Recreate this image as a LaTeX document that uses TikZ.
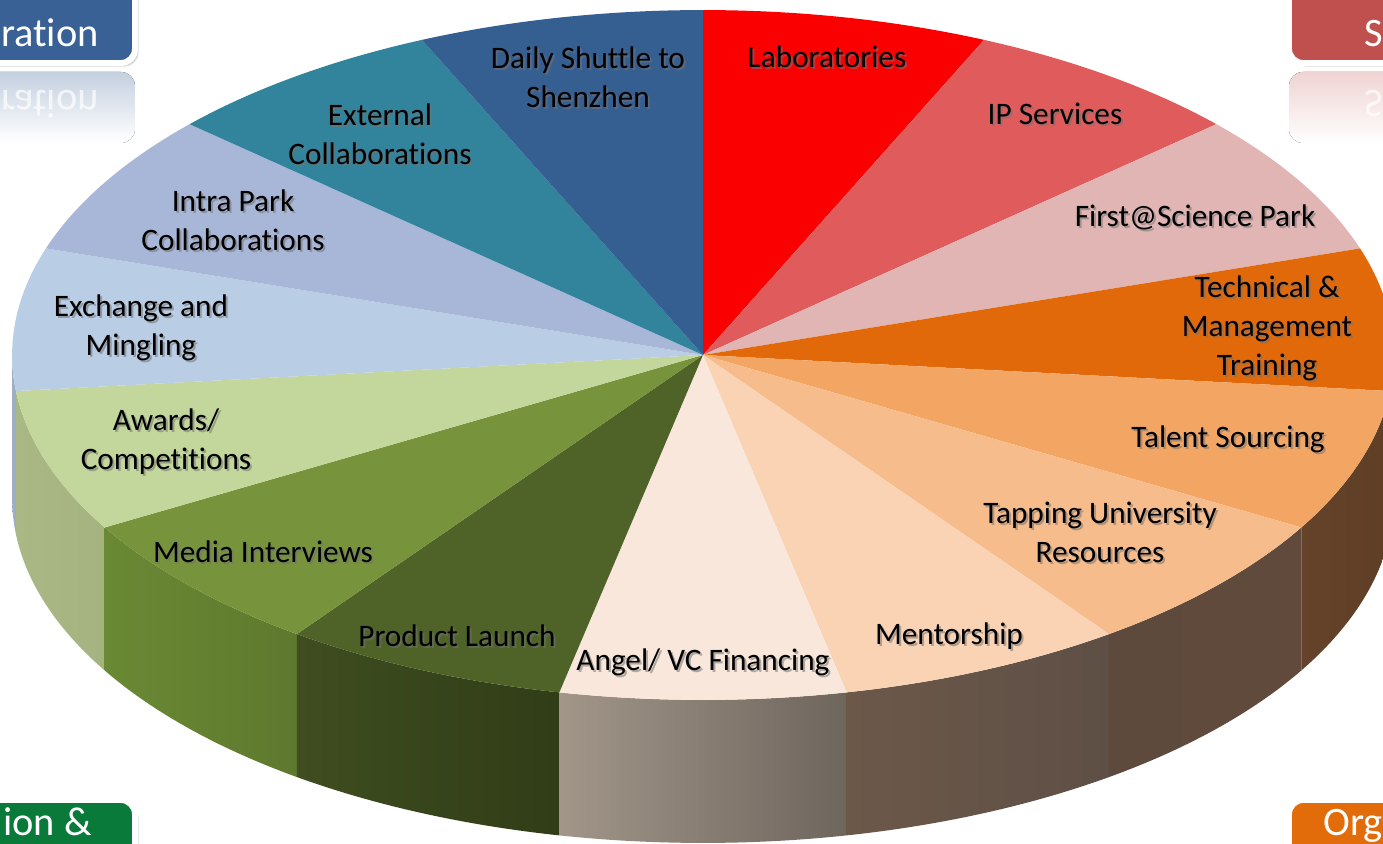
\documentclass[tikz,border=0pt]{standalone}
\usepackage{fontspec}
\setmainfont{Carlito}[Ligatures=NoCommon]
\usepackage{xcolor}
\usepackage{tikz}
\usetikzlibrary{shadows}
\newcommand{\sfs}{\fontsize{17.8}{22.2}\selectfont}
\newcommand{\tfs}{\fontsize{23}{27}\selectfont}

% top faces
\definecolor{labs}{HTML}{FA0000}
\definecolor{ipserv}{HTML}{E05B5B}
\definecolor{firstsp}{HTML}{E2B5B5}
\definecolor{techtrain}{HTML}{E1690A}
\definecolor{talent}{HTML}{F3A664}
\definecolor{tapping}{HTML}{F6BC8B}
\definecolor{mentor}{HTML}{F9D3B3}
\definecolor{angel}{HTML}{F8E7DA}
\definecolor{launch}{HTML}{4F6228}
\definecolor{media}{HTML}{77933C}
\definecolor{awards}{HTML}{C3D69B}
\definecolor{exchange}{HTML}{B9CDE4}
\definecolor{intra}{HTML}{A8B7D8}
\definecolor{extcol}{HTML}{31849B}
\definecolor{shuttle}{HTML}{365F91}
% side walls
\definecolor{exchS}{HTML}{9DAEC5}
\definecolor{awardsL}{HTML}{A9B885}
\definecolor{awardsR}{HTML}{A4B380}
\definecolor{mediaL}{HTML}{6A8934}
\definecolor{mediaR}{HTML}{5E792E}
\definecolor{launchL}{HTML}{3F4D20}
\definecolor{launchR}{HTML}{303D17}
\definecolor{angelL}{HTML}{A29689}
\definecolor{angelR}{HTML}{6E655D}
\definecolor{mentorL}{HTML}{6C5849}
\definecolor{mentorR}{HTML}{5E4F46}
\definecolor{tapL}{HTML}{5D4A3D}
\definecolor{tapR}{HTML}{614A3B}
\definecolor{talentL}{HTML}{65432A}
\definecolor{talentR}{HTML}{5F3E26}
\definecolor{techS}{HTML}{6B3A10}
% corner tabs
\definecolor{tabblue}{HTML}{3A6196}
\definecolor{tabred}{HTML}{C0504D}
\definecolor{tabgreen}{HTML}{0A7A3B}
\definecolor{taborange}{HTML}{E36C0A}

\begin{document}
\begin{tikzpicture}[x=0.02cm, y=0.02cm,
    lbl/.style={align=center, font=\sfs, text=black},
    lblsh/.style={align=center, font=\sfs, text=black!55, opacity=0.55},
    tab/.style={rounded corners=8pt, draw=white, line width=3.4pt,
      drop shadow={opacity=0.3, shadow xshift=2pt, shadow yshift=-2pt}},
    tabtext/.style={font=\tfs, text=white}]
  \clip (-703,-489) rectangle (680,355);
  \coordinate (O) at (0,0);

  % corner tabs and their reflections
  \draw[tab, fill=tabblue] (-733,388) rectangle (-568,292);
  \node[tabtext, anchor=base east, inner sep=0pt] (tl) at (-604,308) {ration};
  \fill[rounded corners=8pt, top color=tabblue!30, bottom color=white] (-733,283) rectangle (-568,212);
  \node[tabtext, anchor=base east, inner sep=0pt, yscale=-1, opacity=0.7] (tlr) at (-604,264) {ration};
  \draw[tab, fill=tabred] (586,388) rectangle (720,292);
  \node[tabtext, anchor=base west, inner sep=0pt] (tr) at (661,308) {S};
  \fill[rounded corners=8pt, top color=tabred!25, bottom color=white] (586,283) rectangle (720,212);
  \node[tabtext, anchor=base west, inner sep=0pt, yscale=-1, opacity=0.7] (trr) at (661,264) {S};
  \draw[tab, fill=tabgreen] (-733,-445) rectangle (-568,-530);
  \node[tabtext, anchor=base west, inner sep=0pt] (bl) at (-700,-480) {ion \&};
  \draw[tab, fill=taborange] (586,-445) rectangle (720,-530);
  \node[tabtext, anchor=base west, inner sep=0pt] (br) at (620,-480) {Org};

  % side walls
  \foreach \a\b\l\r in {-180/-174/exchS/exchS, -174/-150/awardsL/awardsR,
      -150/-126/mediaL/mediaR, -126/-102/launchL/launchR, -102/-78/angelL/angelR,
      -78/-54/mentorL/mentorR, -54/-30/tapL/tapR, -30/-6/talentL/talentR, -6/0/techS/techS} {
    \shade[left color=\l, right color=\r] (\a:13.82cm and 6.9cm)
      arc[start angle=\a, end angle=\b, x radius=13.82cm, y radius=6.9cm] -- ++(0,-143)
      arc[start angle=\b, end angle=\a, x radius=13.82cm, y radius=6.9cm] -- cycle;
  }

  % top faces
  \foreach \a\b\c in {66/90/labs, 42/66/ipserv, 18/42/firstsp, -6/18/techtrain,
      -30/-6/talent, -54/-30/tapping, -78/-54/mentor, -102/-78/angel, -126/-102/launch,
      -150/-126/media, -174/-150/awards, 162/186/exchange, 138/162/intra,
      114/138/extcol, 90/114/shuttle} {
    \fill[\c] (O) -- (\a:13.82cm and 6.9cm)
      arc[start angle=\a, end angle=\b, x radius=13.82cm, y radius=6.9cm] -- cycle;
  }

  % labels
  \foreach \n\x\y\t in {labs/124/298/Laboratories, ipserv/352/241/IP Services,
      firstsp/492/138/First@Science Park,
      techtrain/564/27/{Technical \&\\Management\\Training},
      talent/525/-84/Talent Sourcing, tapping/397/-177/{Tapping University\\Resources},
      mentor/246/-281/Mentorship, angel/0/-307/{Angel/ VC Financing},
      launch/-246/-281/Product Launch, media/-440/-197/Media Interviews,
      awards/-537/-87/{Awards/\\Competitions}, exchange/-562/27/{Exchange and\\Mingling},
      intra/-470/135/{Intra Park\\Collaborations}, extcol/-323/221/{External\\Collaborations},
      shuttle/-115/278/{Daily Shuttle to\\Shenzhen}} {
    \node[lblsh] (\n-sh) at (\x+2,\y-2) {\t};
    \node[lbl] (\n) at (\x,\y) {\t};
  }
\end{tikzpicture}
\end{document}
